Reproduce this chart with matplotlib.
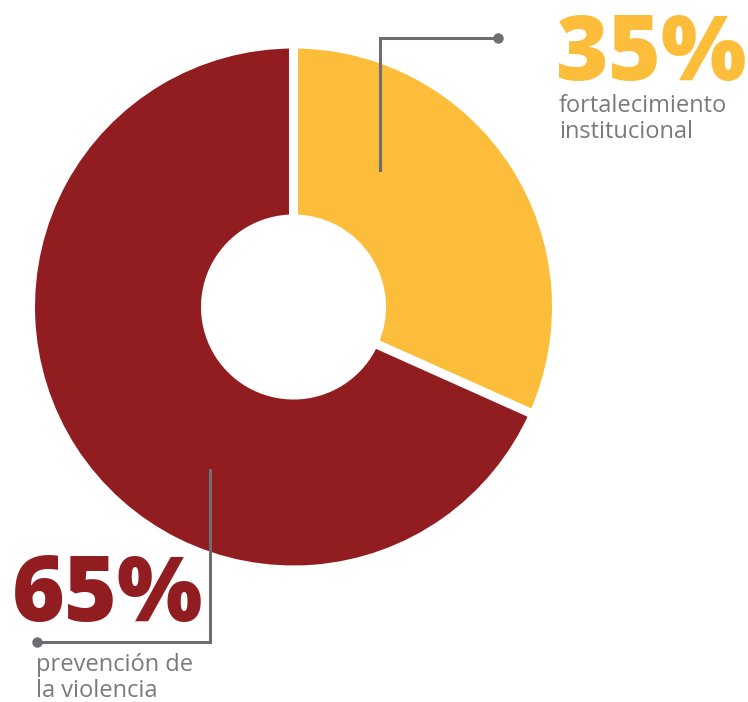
import matplotlib.pyplot as plt

# shares as drawn (arc sizes) and the printed percentages
labels = ["fortalecimiento\ninstitucional", "prevención de\nla violencia"]
pct_text = ["35%", "65%"]
arc_share = [31.7, 68.3]
colors = ["#FBBD3A", "#921D20"]
gray = "#6E6E70"
text_gray = "#7A7A7C"

W, H = 748, 702
fig = plt.figure(figsize=(W / 100, H / 100), dpi=100)
ax = fig.add_axes([0, 0, 1, 1])
ax.set_xlim(0, W)
ax.set_ylim(0, H)
ax.axis("off")

def py(y):
    return H - y

ax.pie(arc_share, colors=colors, startangle=90, counterclock=False,
       center=(293.5, py(307)), radius=263,
       wedgeprops=dict(width=175, edgecolor="white", linewidth=6.5))
ax.set_xlim(0, W)
ax.set_ylim(0, H)
ax.set_aspect("auto")

# leader lines
ax.plot([380, 380, 498], [py(170), py(38), py(38)], color=gray, lw=2.2,
        solid_joinstyle="miter")
ax.plot([498], [py(38)], "o", color=gray, ms=6.5)
ax.plot([210, 210, 37], [py(470), py(642), py(642)], color=gray, lw=2.2,
        solid_joinstyle="miter")
ax.plot([37], [py(642)], "o", color=gray, ms=6.5)

big = dict(family=["Open Sans", "DejaVu Sans"], weight=800, fontsize=65)
small = dict(family=["Open Sans", "DejaVu Sans"], fontsize=17, color=text_gray,
             linespacing=1.12)

ax.text(556, py(80), pct_text[0], color=colors[0], ha="left", va="baseline", **big)
ax.text(559, py(138), labels[0], ha="left", va="baseline", **small)
ax.text(12, py(621), pct_text[1], color=colors[1], ha="left", va="baseline", **big)
ax.text(36, py(697), labels[1], ha="left", va="baseline", **small)

fig.savefig("out.png", dpi=100)
